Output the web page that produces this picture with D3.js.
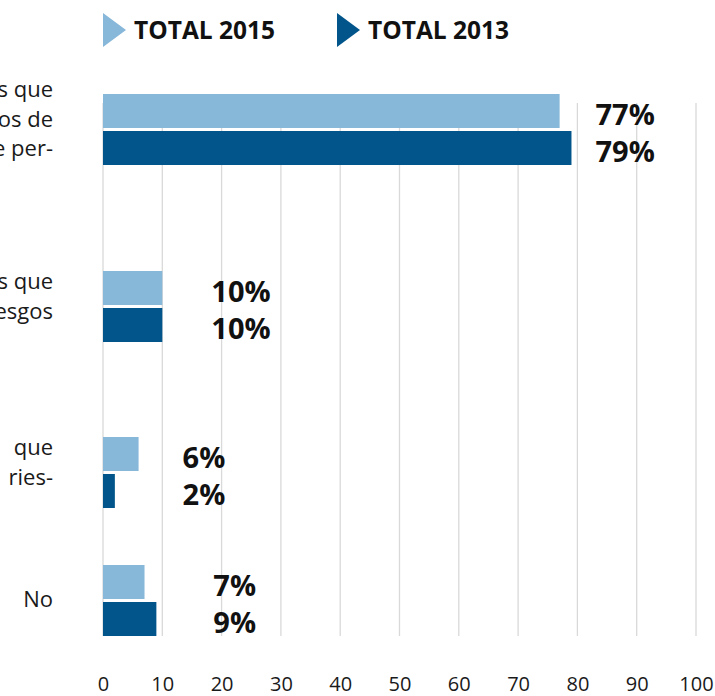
<!DOCTYPE html>
<html lang="es">
<head>
    <meta charset="UTF-8">
    <title>Total 2015 vs Total 2013</title>
    <script src="https://cdnjs.cloudflare.com/ajax/libs/d3/7.8.5/d3.min.js"></script>
    <style>
        body { margin: 0; background: #ffffff; }
        svg { display: block; font-family: "Open Sans", Arial, sans-serif; }
        .cat { font-size: 22px; fill: #1a1a1a; }
        .val { font-size: 29px; font-weight: 700; fill: #111111; }
        .legend text { font-size: 24.5px; font-weight: 700; fill: #111111; }
        .x-axis text { font-size: 20px; fill: #1a1a1a; font-family: "Open Sans", Arial, sans-serif; }
    </style>
</head>
<body>
    <div id="chart"></div>
    <script>
        // category labels (only the visible part of each label survives the crop)
        const categoryLines = [
            ["s que", "os de", "e per-", ""],
            ["s que", "esgos", ""],
            ["que", "ries-", ""],
            ["No"]
        ];
        const seriesNames = ["TOTAL 2015", "TOTAL 2013"];
        const values2015 = [77, 10, 6, 7];
        const values2013 = [79, 10, 2, 9];
        const tickValues = [0, 10, 20, 30, 40, 50, 60, 70, 80, 90, 100];

        const seriesColors = ["#87b7d9", "#02558b"];

        // layout
        const width = 715, height = 696;
        const firstRowTop = 94;
        const rowSteps = [177, 166, 128];
        const groupHeight = 71;
        const labelPad = [24, 49, 44, 57];
        const lineHeight = 29.5;

        const rows = categoryLines.map((lines, i) => ({
            i,
            lines,
            values: [values2015[i], values2013[i]]
        }));

        const svg = d3.select("#chart")
            .append("svg")
            .attr("width", width)
            .attr("height", height);

        const x = d3.scaleLinear().domain([0, 100]).range([103, 696]);

        const rowTops = [firstRowTop, ...Array.from(d3.cumsum(rowSteps), d => firstRowTop + d)];
        const y = d3.scaleOrdinal().domain(d3.range(rows.length)).range(rowTops);

        const inner = d3.scaleBand()
            .domain(seriesNames)
            .range([0, groupHeight])
            .paddingInner(3 / 37);

        const color = d3.scaleOrdinal().domain(seriesNames).range(seriesColors);

        // grid
        svg.append("g")
            .selectAll("line")
            .data(tickValues)
            .join("line")
            .attr("x1", d => x(d))
            .attr("x2", d => x(d))
            .attr("y1", 103)
            .attr("y2", 636)
            .attr("stroke", "#d9d9d9")
            .attr("stroke-width", 1.3);

        // x axis labels
        const xAxis = svg.append("g")
            .attr("class", "x-axis")
            .attr("transform", "translate(0,670)")
            .call(d3.axisBottom(x).tickValues(tickValues).tickSize(0).tickPadding(7));
        xAxis.select(".domain").remove();

        // bars
        const group = svg.selectAll(".row")
            .data(rows)
            .join("g")
            .attr("class", "row")
            .attr("transform", d => `translate(0,${y(d.i)})`);

        group.selectAll("rect")
            .data(d => d.values.map((v, k) => ({ name: seriesNames[k], v })))
            .join("rect")
            .attr("x", x(0))
            .attr("y", d => inner(d.name))
            .attr("width", d => x(d.v) - x(0))
            .attr("height", inner.bandwidth())
            .attr("fill", d => color(d.name));

        // value labels
        group.each(function(row) {
            const g = d3.select(this);
            const lx = x(d3.max(row.values)) + labelPad[row.i];
            g.selectAll(".val")
                .data(row.values.map((v, k) => ({ name: seriesNames[k], v })))
                .join("text")
                .attr("class", "val")
                .attr("x", lx)
                .attr("y", d => inner(d.name) + inner.bandwidth() / 2 + 13.5)
                .text(d => d.v + "%");
        });

        // category labels
        group.append("text")
            .attr("class", "cat")
            .attr("text-anchor", "end")
            .each(function(row) {
                const t = d3.select(this);
                const n = row.lines.length;
                const shift = n > 1 ? 12 : 6;
                row.lines.forEach((line, j) => {
                    t.append("tspan")
                        .attr("x", 53)
                        .attr("y", groupHeight / 2 + (j - (n - 1) / 2) * lineHeight + shift)
                        .text(line);
                });
            });

        // legend
        const legend = svg.append("g")
            .attr("class", "legend")
            .selectAll("g")
            .data(seriesNames)
            .join("g")
            .attr("transform", (d, i) => `translate(${[103, 337][i]},0)`);

        legend.append("path")
            .attr("d", "M0,13L23,30L0,47Z")
            .attr("fill", d => color(d));

        legend.append("text")
            .attr("x", 31)
            .attr("y", 39)
            .text(d => d);
    </script>
</body>
</html>
